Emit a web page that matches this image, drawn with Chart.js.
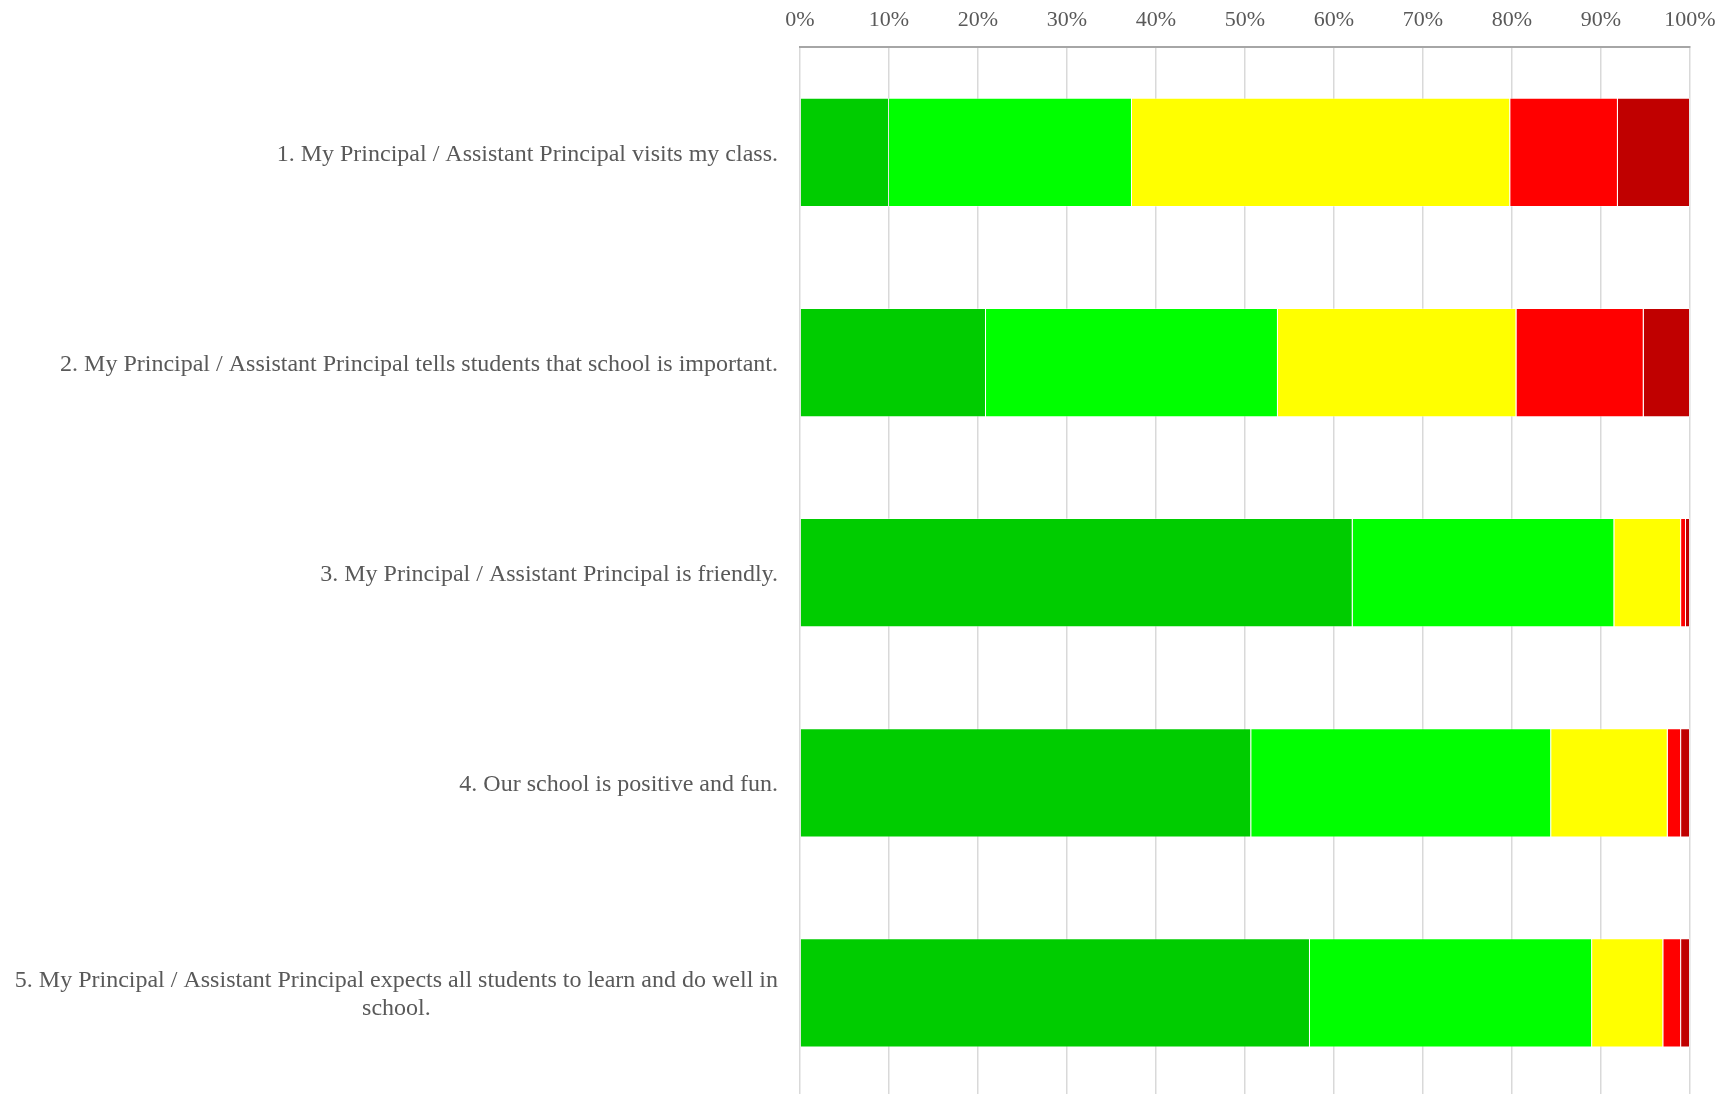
<html lang="en">

<head>
    <meta charset="UTF-8">
    <title>Principal Survey</title>
    <script src="https://cdn.jsdelivr.net/npm/chart.js"></script>
    <style>
        html, body { margin: 0; padding: 0; background: #fff; overflow: hidden; }
        #wrap { position: relative; width: 1731px; height: 1100px; }
    </style>
</head>

<body>
    <div id="wrap">
        <canvas id="surveyChart"></canvas>
    </div>

    <script>
        // survey statements (last one wraps onto two lines)
        const categories = [
            ['1. My Principal / Assistant Principal visits my class.'],
            ['2. My Principal / Assistant Principal tells students that school is important.'],
            ['3. My Principal / Assistant Principal is friendly.'],
            ['4. Our school is positive and fun.'],
            ['5. My Principal / Assistant Principal expects all students to learn and do well in', 'school.']
        ];

        // percentages per answer
        const stronglyAgree = [10.0, 20.9, 62.1, 50.7, 57.3];
        const agree = [27.3, 32.8, 29.4, 33.7, 31.7];
        const neutral = [42.5, 26.8, 7.5, 13.1, 8.0];
        const disagree = [12.1, 14.3, 0.55, 1.5, 2.0];
        const stronglyDisagree = [8.1, 5.2, 0.45, 1.0, 1.0];

        const xTicks = [0, 10, 20, 30, 40, 50, 60, 70, 80, 90, 100];

        const serif = '"Liberation Serif", "Times New Roman", serif';
        const labelFont = '24px ' + serif;
        const textGray = '#595959';

        // draws the statement labels left of the bars, multi-line ones centred like Excel
        const statementLabels = {
            id: 'statementLabels',
            afterDraw(chart) {
                const ctx = chart.ctx;
                const yScale = chart.scales.y;
                const right = chart.chartArea.left - 22;
                const lineH = 27.5;
                ctx.save();
                ctx.font = labelFont;
                ctx.fillStyle = textGray;
                ctx.textBaseline = 'middle';
                categories.forEach(function (lines, i) {
                    const yc = yScale.getPixelForValue(i) + 2;
                    let widest = 0;
                    lines.forEach(function (l) { widest = Math.max(widest, ctx.measureText(l).width); });
                    lines.forEach(function (l, j) {
                        const y = yc + (j - (lines.length - 1) / 2) * lineH;
                        if (lines.length === 1) {
                            ctx.textAlign = 'right';
                            ctx.fillText(l, right, y);
                        } else {
                            ctx.textAlign = 'center';
                            ctx.fillText(l, right - widest / 2, y);
                        }
                    });
                });
                ctx.restore();
            }
        };

        const edge = 'rgba(255,255,255,0.35)';

        const ctx = document.getElementById('surveyChart').getContext('2d');
        const surveyChart = new Chart(ctx, {
            type: 'bar',
            data: {
                labels: categories.map(function (c) { return c.join(' '); }),
                datasets: [
                    { label: 'Strongly Agree', data: stronglyAgree, backgroundColor: '#00CC00' },
                    { label: 'Agree', data: agree, backgroundColor: '#00FF00' },
                    { label: 'Neutral', data: neutral, backgroundColor: '#FFFF00' },
                    { label: 'Disagree', data: disagree, backgroundColor: '#FF0000' },
                    { label: 'Strongly Disagree', data: stronglyDisagree, backgroundColor: '#C00000' }
                ].map(function (d) {
                    d.borderColor = edge;
                    d.borderWidth = 1;
                    d.categoryPercentage = 1;
                    d.barPercentage = 0.52;
                    return d;
                })
            },
            options: {
                indexAxis: 'y',
                responsive: true,
                maintainAspectRatio: false,
                devicePixelRatio: 1,
                animation: false,
                layout: {
                    padding: { left: 800, right: 41, top: -7, bottom: 2 }
                },
                plugins: {
                    legend: { display: false },
                    tooltip: { enabled: false }
                },
                scales: {
                    x: {
                        position: 'top',
                        stacked: true,
                        min: 0,
                        max: 100,
                        afterBuildTicks: function (scale) {
                            scale.ticks = xTicks.map(function (v) { return { value: v }; });
                        },
                        ticks: {
                            callback: function (v) { return v + '%'; },
                            color: textGray,
                            font: { family: serif, size: 22 },
                            padding: 14,
                            maxRotation: 0
                        },
                        grid: {
                            color: '#d9d9d9',
                            lineWidth: 1.5,
                            drawTicks: false
                        },
                        border: {
                            display: true,
                            color: '#a6a6a6',
                            width: 2
                        }
                    },
                    y: {
                        stacked: true,
                        display: false
                    }
                }
            },
            plugins: [statementLabels]
        });
    </script>
</body>

</html>
